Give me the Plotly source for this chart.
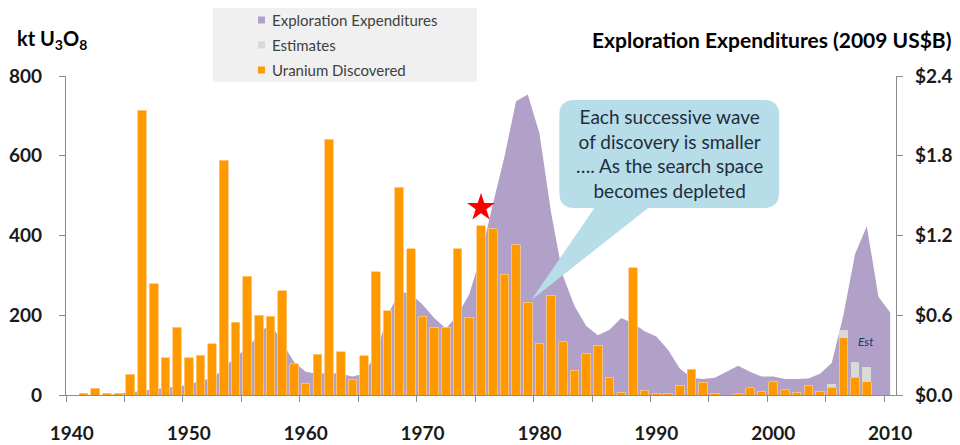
import plotly.graph_objects as go

years = list(range(1940, 2011))

# kt U3O8 discovered per year (left axis)
discovered = [0, 5, 17, 4, 5, 52, 714, 279, 94, 170,
              94, 100, 129, 589, 183, 298, 200, 198, 261, 79,
              29, 102, 642, 108, 38, 98, 309, 211, 521, 367,
              198, 170, 170, 367, 195, 425, 417, 303, 377, 233,
              130, 250, 133, 62, 103, 125, 43, 6, 319, 11,
              5, 5, 25, 65, 32, 4, 0, 3, 18, 10,
              33, 13, 6, 25, 9, 19, 144, 44, 33, 0,
              0]

# estimated extra discoveries, stacked on top
estimates = [0] * 65 + [8, 19, 38, 38, 0, 0]

# exploration expenditures, 2009 US$B (right axis)
expenditure = [0, 0, 0, 0, 0.01, 0.02, 0.03, 0.04, 0.05, 0.06,
               0.075, 0.11, 0.125, 0.2, 0.29, 0.35, 0.46, 0.54, 0.39, 0.25,
               0.175, 0.16, 0.165, 0.16, 0.14, 0.16, 0.31, 0.59, 0.78, 0.76,
               0.68, 0.58, 0.50, 0.60, 0.76, 1.05, 1.43, 1.79, 2.21, 2.26,
               1.97, 1.37, 0.9, 0.67, 0.52, 0.45, 0.49, 0.58, 0.54, 0.48,
               0.44, 0.34, 0.20, 0.13, 0.12, 0.13, 0.175, 0.22, 0.175, 0.14,
               0.14, 0.12, 0.12, 0.125, 0.16, 0.24, 0.6, 1.06, 1.27, 0.74,
               0.62]

star_year = [1975]
star_value = [470]

label_years = [1940, 1950, 1960, 1970, 1980, 1990, 2000, 2010]
legend_names = ["Exploration Expenditures", "Estimates", "Uranium Discovered"]

PURPLE = "#b1a0c7"
GREY = "#d9d9d9"
ORANGE = "#ff9900"
AXIS = "#8c8c8c"
FONT = "Lato"

fig = go.Figure()

# area on the primary (right-hand, $) axis so the bars sit on top of it
fig.add_trace(go.Scatter(x=years, y=expenditure, yaxis="y", mode="lines",
                         line=dict(width=0, color=PURPLE), fill="tozeroy",
                         fillcolor=PURPLE, name=legend_names[0]))
fig.add_trace(go.Bar(x=years, y=discovered, yaxis="y2", name=legend_names[2],
                     marker=dict(color=ORANGE, line=dict(color="#ffc87a", width=0.8))))
fig.add_trace(go.Bar(x=years, y=estimates, yaxis="y2", name=legend_names[1],
                     marker=dict(color=GREY, line=dict(width=0))))
fig.add_trace(go.Scatter(x=star_year, y=star_value, yaxis="y2", mode="markers",
                         marker=dict(symbol="star", size=21, color="#ff0000"),
                         name="star"))

tick_font = dict(family=FONT, size=19, color="#1a1a1a", weight="bold")

fig.update_layout(
    width=960, height=445,
    margin=dict(l=66, r=64, t=76, b=50),
    paper_bgcolor="white", plot_bgcolor="white",
    showlegend=False,
    barmode="stack", bargap=0.26,
    font=dict(family=FONT),
    xaxis=dict(range=[1939.5, 2010.5], showline=True, linecolor=AXIS, linewidth=1.3,
               showgrid=False, zeroline=False, automargin=False,
               tickmode="array", tickvals=label_years,
               ticktext=[str(y) for y in label_years],
               ticks="", ticklabelstandoff=21, tickfont=tick_font,
               minor=dict(tickmode="array",
                          tickvals=[y - 0.5 for y in range(1940, 2011, 5)],
                          ticks="outside", ticklen=6, tickcolor=AXIS, tickwidth=1.3)),
    yaxis=dict(range=[0, 2.4], dtick=0.6, side="right", tickprefix="$",
               tickformat=".1f", showline=True, linecolor=AXIS, linewidth=1.3,
               ticks="outside", ticklen=6, tickcolor=AXIS, tickwidth=1.3,
               showgrid=False, zeroline=False, ticklabelstandoff=8,
               automargin=False, tickfont=tick_font),
    yaxis2=dict(range=[0, 800], dtick=200, side="left", overlaying="y",
                showline=True, linecolor=AXIS, linewidth=1.3,
                ticks="outside", ticklen=6, tickcolor=AXIS, tickwidth=1.3,
                showgrid=False, zeroline=False, ticklabelstandoff=13,
                automargin=False, tickfont=tick_font),
)

# callout bubble with its pointer
bx0, bx1, by0, by1 = 1981.7, 2000.5, 469, 740
rx, ry = 1.3, 38
tip = (1979.3, 238)
tl, tr = 1984.7, 1989.3
path = (f"M {bx0 + rx},{by1} L {bx1 - rx},{by1} Q {bx1},{by1} {bx1},{by1 - ry} "
        f"L {bx1},{by0 + ry} Q {bx1},{by0} {bx1 - rx},{by0} L {tr},{by0} "
        f"L {tip[0]},{tip[1]} L {tl},{by0} L {bx0 + rx},{by0} "
        f"Q {bx0},{by0} {bx0},{by0 + ry} L {bx0},{by1 - ry} Q {bx0},{by1} {bx0 + rx},{by1} Z")
fig.add_shape(type="path", path=path, xref="x", yref="y2", layer="above",
              fillcolor="#b7dde8", line=dict(width=0))
fig.add_annotation(x=(bx0 + bx1) / 2, y=(by0 + by1) / 2, xref="x", yref="y2",
                   text="Each successive wave<br>of discovery is smaller<br>…. As the search space<br>becomes depleted",
                   showarrow=False, font=dict(family=FONT, size=19, color="#1f2d3d"),
                   align="center", xanchor="center", yanchor="middle")

fig.add_annotation(x=2007.9, y=133, xref="x", yref="y2", text="<i>Est</i>",
                   showarrow=False, font=dict(family=FONT, size=12, color="#1f3864"))

# axis titles
fig.add_annotation(x=-0.061, y=1.113, xref="paper", yref="paper",
                   xanchor="left", yanchor="middle",
                   text="<b>kt U<sub>3</sub>O<sub>8</sub></b>", showarrow=False,
                   font=dict(family=FONT, size=20, color="#000000"))
fig.add_annotation(x=1.0687, y=1.113, xref="paper", yref="paper",
                   xanchor="right", yanchor="middle",
                   text="<b>Exploration Expenditures (2009 US$B)</b>", showarrow=False,
                   font=dict(family=FONT, size=21, color="#000000"))

# legend box drawn by hand (small square swatches)
fig.add_shape(type="rect", xref="paper", yref="paper", x0=0.177, x1=0.495,
              y0=0.981, y1=1.213, fillcolor="#f0f0f0", line=dict(width=0), layer="below")
swatch_y = [1.1755, 1.0972, 1.0188]
for name, col, yy in zip(legend_names, [PURPLE, GREY, ORANGE], swatch_y):
    fig.add_shape(type="rect", xref="paper", yref="paper", x0=0.2313, x1=0.2397,
                  y0=yy - 0.011, y1=yy + 0.011, fillcolor=col, line=dict(width=0))
    fig.add_annotation(x=0.2458, y=yy, xref="paper", yref="paper", xanchor="left",
                       yanchor="middle", text=name, showarrow=False,
                       font=dict(family=FONT, size=15, color="#404040"))

fig.write_html("out.html", config={"displayModeBar": False},
               post_script="document.body.style.margin='0';document.body.style.overflow='hidden';")
